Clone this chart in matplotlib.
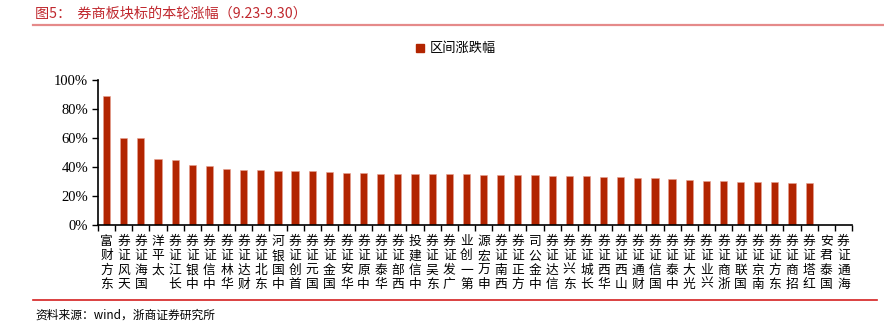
import matplotlib
matplotlib.use("Agg")
import matplotlib.pyplot as plt
from matplotlib.lines import Line2D
from matplotlib.patches import Rectangle
import numpy as np

plt.rcParams['font.family'] = ['Noto Sans CJK SC', 'DejaVu Sans']

brokers = ["东方财富", "天风证券", "国海证券", "太平洋", "长江证券", "中银证券",
           "中信证券", "华林证券", "财达证券", "东北证券", "中国银河", "首创证券",
           "国元证券", "国金证券", "华安证券", "中原证券", "华泰证券", "西部证券",
           "中信建投", "东吴证券", "广发证券", "第一创业", "申万宏源", "西南证券",
           "方正证券", "中金公司", "信达证券", "东兴证券", "长城证券", "华西证券",
           "山西证券", "财通证券", "国信证券", "中泰证券", "光大证券", "兴业证券",
           "浙商证券", "国联证券", "南京证券", "东方证券", "招商证券", "红塔证券",
           "国泰君安", "海通证券"]
change = [89.0, 60.2, 59.8, 45.3, 44.6, 41.4, 40.7, 38.4, 37.9, 37.7, 37.2, 37.2,
          37.0, 36.8, 36.1, 35.6, 35.2, 35.2, 34.9, 34.9, 34.9, 34.9, 34.7, 34.7,
          34.5, 34.3, 34.0, 33.8, 33.6, 33.3, 33.1, 32.4, 32.2, 32.0, 31.0, 30.3,
          30.1, 29.9, 29.4, 29.4, 29.0, 29.0, 0.0, 0.0]
yticks = [0, 20, 40, 60, 80, 100]

W, H = 884, 332
fig = plt.figure(figsize=(W / 100, H / 100), dpi=100)

# title + rule
fig.text(35 / W, 1 - 13 / H, "图5：  券商板块标的本轮涨幅（9.23-9.30）",
         color="#C0282E", fontsize=10.2, va="center", ha="left")
fig.add_artist(Line2D([33 / W, 1.0], [1 - 25 / H] * 2, color="#E58A8A", lw=1.6))

ax = fig.add_axes([98 / W, 1 - 225 / H, (852 - 98) / W, (225 - 80) / H])
x = np.arange(len(brokers))
ax.bar(x, change, width=0.42, color="#B22400", edgecolor="#E8A090",
       linewidth=0.4, label="区间涨跌幅")
ax.set_xlim(-0.5, len(brokers) - 0.5)
ax.set_ylim(0, 100)
ax.set_yticks(yticks)
ax.set_yticklabels([f"{v}%" for v in yticks], family="Liberation Serif", fontsize=10.5)
ax.set_xticks(np.arange(len(brokers) + 1) - 0.5)
ax.set_xticklabels([])
ax.tick_params(axis="both", direction="out", length=4, width=1, color="black")
ax.tick_params(axis="y", pad=3)
for s in ["top", "right"]:
    ax.spines[s].set_visible(False)
for s in ["left", "bottom"]:
    ax.spines[s].set_linewidth(1.2)

# rotated category names: characters stacked bottom-to-top, top aligned
for i, name in enumerate(brokers):
    ax.text(i, -7.0, "\n".join(name[::-1]), ha="center", va="top", fontsize=9.2,
            linespacing=1.12, transform=ax.transData, clip_on=False)

# legend
fig.add_artist(Rectangle((416 / W, 1 - 52 / H), 8 / W, 8 / H, color="#B22400",
                         transform=fig.transFigure))
fig.text(430 / W, 1 - 48 / H, "区间涨跌幅", fontsize=9.5, va="center", ha="left")

# bottom rule + source
fig.add_artist(Line2D([33 / W, 877 / W], [1 - 300 / H] * 2, color="#D42020", lw=1.2))
fig.text(35 / W, 1 - 315 / H, "资料来源：wind，浙商证券研究所", fontsize=8.5,
         va="center", ha="left")

fig.savefig("out.png", dpi=100)
